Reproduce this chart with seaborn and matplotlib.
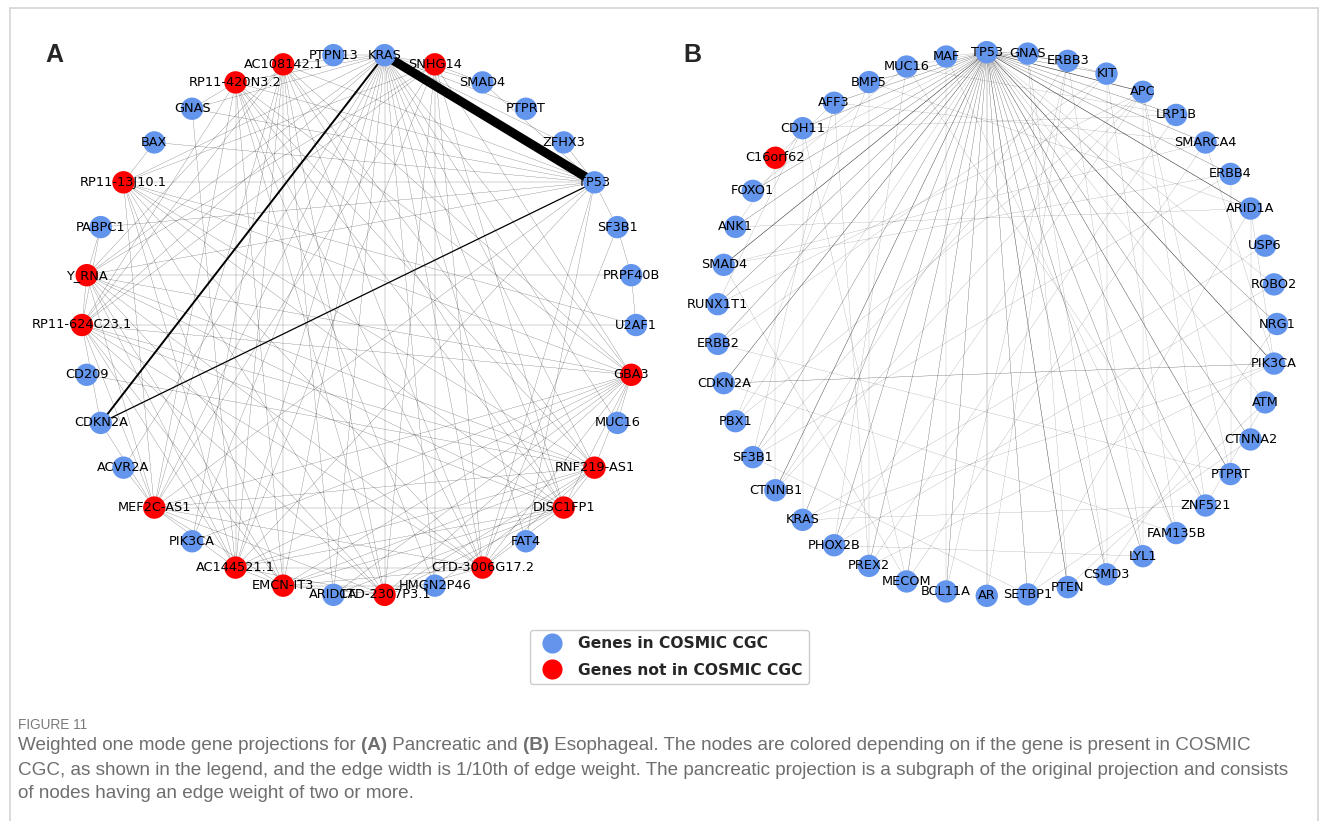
import numpy as np
import pandas as pd
import matplotlib
matplotlib.use("Agg")
import matplotlib.pyplot as plt
from matplotlib.lines import Line2D
from matplotlib import font_manager
import seaborn as sns

W, H = 1328, 821
sns.set_theme(style="white")
plt.rcParams['font.family'] = ['DejaVu Sans']

# ---------------- data ----------------
# Panel A (pancreatic) nodes, circular order (counter-clockwise from the rightmost node)
nodes_a = ["U2AF1", "PRPF40B", "SF3B1", "TP53", "ZFHX3", "PTPRT", "SMAD4", "SNHG14",
           "KRAS", "PTPN13", "AC108142.1", "RP11-420N3.2", "GNAS", "BAX", "RP11-13J10.1",
           "PABPC1", "Y_RNA", "RP11-624C23.1", "CD209", "CDKN2A", "ACVR2A", "MEF2C-AS1",
           "PIK3CA", "AC144521.1", "EMCN-IT3", "ARID1A", "CTD-2307P3.1", "HMGN2P46",
           "CTD-3006G17.2", "FAT4", "DISC1FP1", "RNF219-AS1", "MUC16", "GBA3"]
not_cgc_a = ["SNHG14", "AC108142.1", "RP11-420N3.2", "RP11-13J10.1", "Y_RNA",
             "RP11-624C23.1", "MEF2C-AS1", "AC144521.1", "EMCN-IT3", "CTD-2307P3.1",
             "CTD-3006G17.2", "DISC1FP1", "RNF219-AS1", "GBA3"]
edges_a = [
    ("KRAS", "TP53", 65), ("KRAS", "CDKN2A", 14), ("TP53", "CDKN2A", 9),
    ("KRAS", "SNHG14", 2), ("KRAS", "SMAD4", 2), ("KRAS", "PTPRT", 2), ("KRAS", "ZFHX3", 2),
    ("KRAS", "PTPN13", 2), ("KRAS", "AC108142.1", 2), ("KRAS", "RP11-420N3.2", 2),
    ("KRAS", "GNAS", 2), ("KRAS", "RP11-13J10.1", 2), ("KRAS", "Y_RNA", 2),
    ("KRAS", "RP11-624C23.1", 2), ("KRAS", "MEF2C-AS1", 2), ("KRAS", "AC144521.1", 2),
    ("KRAS", "EMCN-IT3", 2), ("KRAS", "CTD-2307P3.1", 2), ("KRAS", "CTD-3006G17.2", 2),
    ("KRAS", "DISC1FP1", 2), ("KRAS", "RNF219-AS1", 2), ("KRAS", "GBA3", 2),
    ("KRAS", "PIK3CA", 2), ("KRAS", "ARID1A", 2), ("KRAS", "HMGN2P46", 2),
    ("KRAS", "FAT4", 2), ("KRAS", "MUC16", 2), ("KRAS", "ACVR2A", 2),
    ("TP53", "BAX", 2), ("TP53", "GNAS", 2), ("TP53", "PABPC1", 2), ("TP53", "RP11-13J10.1", 2),
    ("TP53", "AC108142.1", 2), ("TP53", "RP11-420N3.2", 2), ("TP53", "Y_RNA", 2),
    ("TP53", "ZFHX3", 2), ("TP53", "SMAD4", 2), ("TP53", "SF3B1", 2), ("TP53", "FAT4", 2),
    ("TP53", "CTD-3006G17.2", 2), ("TP53", "MEF2C-AS1", 2), ("TP53", "AC144521.1", 2),
    ("SNHG14", "SMAD4", 2), ("SNHG14", "RP11-13J10.1", 2), ("SNHG14", "Y_RNA", 2),
    ("SNHG14", "RP11-624C23.1", 2), ("SNHG14", "MEF2C-AS1", 2), ("SNHG14", "AC144521.1", 2),
    ("SNHG14", "HMGN2P46", 2), ("SNHG14", "CTD-2307P3.1", 2), ("SNHG14", "CTD-3006G17.2", 2),
    ("SNHG14", "DISC1FP1", 2), ("SNHG14", "GBA3", 2),
    ("AC108142.1", "EMCN-IT3", 2), ("AC108142.1", "AC144521.1", 2), ("AC108142.1", "CTD-2307P3.1", 2),
    ("AC108142.1", "CTD-3006G17.2", 2), ("AC108142.1", "DISC1FP1", 2), ("AC108142.1", "RNF219-AS1", 2),
    ("AC108142.1", "GBA3", 2), ("AC108142.1", "MEF2C-AS1", 2), ("AC108142.1", "Y_RNA", 2),
    ("AC108142.1", "RP11-624C23.1", 2), ("AC108142.1", "ARID1A", 2),
    ("RP11-420N3.2", "GNAS", 2), ("RP11-420N3.2", "AC144521.1", 2), ("RP11-420N3.2", "EMCN-IT3", 2),
    ("RP11-420N3.2", "CTD-2307P3.1", 2), ("RP11-420N3.2", "CTD-3006G17.2", 2),
    ("RP11-420N3.2", "DISC1FP1", 2), ("RP11-420N3.2", "RNF219-AS1", 2), ("RP11-420N3.2", "GBA3", 2),
    ("RP11-420N3.2", "RP11-624C23.1", 2), ("RP11-420N3.2", "MEF2C-AS1", 2),
    ("RP11-420N3.2", "HMGN2P46", 2),
    ("GNAS", "AC144521.1", 2), ("BAX", "RP11-13J10.1", 2),
    ("RP11-13J10.1", "MEF2C-AS1", 2), ("RP11-13J10.1", "AC144521.1", 2), ("RP11-13J10.1", "EMCN-IT3", 2),
    ("RP11-13J10.1", "CTD-2307P3.1", 2), ("RP11-13J10.1", "CTD-3006G17.2", 2),
    ("RP11-13J10.1", "DISC1FP1", 2), ("RP11-13J10.1", "RNF219-AS1", 2), ("RP11-13J10.1", "GBA3", 2),
    ("RP11-13J10.1", "U2AF1", 2),
    ("PABPC1", "Y_RNA", 2), ("PABPC1", "RP11-624C23.1", 2),
    ("Y_RNA", "RP11-624C23.1", 2), ("Y_RNA", "MEF2C-AS1", 2), ("Y_RNA", "AC144521.1", 2),
    ("Y_RNA", "EMCN-IT3", 2), ("Y_RNA", "CTD-2307P3.1", 2), ("Y_RNA", "CTD-3006G17.2", 2),
    ("Y_RNA", "DISC1FP1", 2), ("Y_RNA", "RNF219-AS1", 2), ("Y_RNA", "GBA3", 2), ("Y_RNA", "PRPF40B", 2),
    ("RP11-624C23.1", "MEF2C-AS1", 2), ("RP11-624C23.1", "AC144521.1", 2),
    ("RP11-624C23.1", "EMCN-IT3", 2), ("RP11-624C23.1", "CTD-2307P3.1", 2),
    ("RP11-624C23.1", "CTD-3006G17.2", 2), ("RP11-624C23.1", "DISC1FP1", 2),
    ("RP11-624C23.1", "RNF219-AS1", 2), ("RP11-624C23.1", "GBA3", 2), ("RP11-624C23.1", "CDKN2A", 2),
    ("RP11-624C23.1", "U2AF1", 2),
    ("CD209", "RNF219-AS1", 2), ("CDKN2A", "MEF2C-AS1", 2), ("ACVR2A", "MEF2C-AS1", 2),
    ("MEF2C-AS1", "DISC1FP1", 2), ("MEF2C-AS1", "AC144521.1", 2), ("MEF2C-AS1", "EMCN-IT3", 2),
    ("MEF2C-AS1", "CTD-2307P3.1", 2), ("MEF2C-AS1", "CTD-3006G17.2", 2),
    ("MEF2C-AS1", "RNF219-AS1", 2), ("MEF2C-AS1", "GBA3", 2),
    ("PIK3CA", "AC108142.1", 2), ("PIK3CA", "GBA3", 2),
    ("AC144521.1", "CTD-3006G17.2", 2), ("AC144521.1", "EMCN-IT3", 2),
    ("AC144521.1", "CTD-2307P3.1", 2), ("AC144521.1", "DISC1FP1", 2),
    ("AC144521.1", "RNF219-AS1", 2), ("AC144521.1", "GBA3", 2),
    ("EMCN-IT3", "HMGN2P46", 2), ("EMCN-IT3", "CTD-2307P3.1", 2), ("EMCN-IT3", "CTD-3006G17.2", 2),
    ("EMCN-IT3", "DISC1FP1", 2), ("EMCN-IT3", "RNF219-AS1", 2), ("EMCN-IT3", "GBA3", 2),
    ("ARID1A", "GBA3", 2), ("ARID1A", "DISC1FP1", 2),
    ("CTD-2307P3.1", "CTD-3006G17.2", 2), ("CTD-2307P3.1", "DISC1FP1", 2),
    ("CTD-2307P3.1", "RNF219-AS1", 2), ("CTD-2307P3.1", "GBA3", 2),
    ("HMGN2P46", "RNF219-AS1", 2),
    ("CTD-3006G17.2", "DISC1FP1", 2), ("CTD-3006G17.2", "RNF219-AS1", 2), ("CTD-3006G17.2", "GBA3", 2),
    ("DISC1FP1", "RNF219-AS1", 2), ("DISC1FP1", "GBA3", 2), ("RNF219-AS1", "GBA3", 2),
    ("MUC16", "GBA3", 2), ("SF3B1", "PRPF40B", 2), ("SF3B1", "CTD-3006G17.2", 2),
    ("PRPF40B", "U2AF1", 2),
]

# Panel B (esophageal) nodes, circular order (counter-clockwise from the rightmost node)
nodes_b = ["NRG1", "ROBO2", "USP6", "ARID1A", "ERBB4", "SMARCA4", "LRP1B", "APC", "KIT",
           "ERBB3", "GNAS", "TP53", "MAF", "MUC16", "BMP5", "AFF3", "CDH11", "C16orf62",
           "FOXO1", "ANK1", "SMAD4", "RUNX1T1", "ERBB2", "CDKN2A", "PBX1", "SF3B1", "CTNNB1",
           "KRAS", "PHOX2B", "PREX2", "MECOM", "BCL11A", "AR", "SETBP1", "PTEN", "CSMD3",
           "LYL1", "FAM135B", "ZNF521", "PTPRT", "CTNNA2", "ATM", "PIK3CA"]
not_cgc_b = ["C16orf62"]
edges_b = [
    ("TP53", "MAF", 1), ("TP53", "MUC16", 1), ("TP53", "BMP5", 2), ("TP53", "AFF3", 2),
    ("TP53", "CDH11", 2), ("TP53", "C16orf62", 1), ("TP53", "FOXO1", 2), ("TP53", "ANK1", 2),
    ("TP53", "SMAD4", 4), ("TP53", "RUNX1T1", 2), ("TP53", "ERBB2", 2), ("TP53", "CDKN2A", 3),
    ("TP53", "PBX1", 1), ("TP53", "SF3B1", 2), ("TP53", "CTNNB1", 3), ("TP53", "KRAS", 2),
    ("TP53", "PHOX2B", 2), ("TP53", "PREX2", 2), ("TP53", "MECOM", 2), ("TP53", "BCL11A", 2),
    ("TP53", "AR", 2), ("TP53", "SETBP1", 2), ("TP53", "PTEN", 3), ("TP53", "CSMD3", 2),
    ("TP53", "LYL1", 2), ("TP53", "FAM135B", 2), ("TP53", "ZNF521", 2), ("TP53", "PTPRT", 3),
    ("TP53", "CTNNA2", 2), ("TP53", "ATM", 1), ("TP53", "PIK3CA", 4), ("TP53", "NRG1", 2),
    ("TP53", "ARID1A", 4), ("TP53", "ERBB4", 2), ("TP53", "SMARCA4", 2), ("TP53", "LRP1B", 2),
    ("TP53", "APC", 4), ("TP53", "KIT", 2), ("TP53", "ERBB3", 2), ("TP53", "GNAS", 2),
    ("TP53", "ROBO2", 1),
    ("C16orf62", "CTNNB1", 1), ("CDH11", "KRAS", 1), ("BMP5", "PREX2", 1), ("KIT", "CSMD3", 1),
    ("APC", "LYL1", 1), ("ERBB4", "PTPRT", 1), ("CDKN2A", "PIK3CA", 2), ("KRAS", "ZNF521", 1),
    ("PHOX2B", "LYL1", 1), ("PIK3CA", "PREX2", 1), ("PIK3CA", "KRAS", 1), ("ERBB2", "PTPRT", 1),
    ("AFF3", "SMARCA4", 1), ("CDH11", "LRP1B", 1), ("SMAD4", "ERBB4", 1), ("SMAD4", "MECOM", 1),
    ("RUNX1T1", "APC", 1), ("PBX1", "APC", 1), ("ANK1", "ARID1A", 1), ("MUC16", "ZNF521", 1),
    ("MAF", "FAM135B", 1), ("MAF", "BCL11A", 1), ("APC", "PHOX2B", 1), ("APC", "CTNNB1", 1),
    ("KIT", "SF3B1", 1), ("LRP1B", "PREX2", 1), ("SMARCA4", "MECOM", 1), ("ARID1A", "SETBP1", 1),
    ("ARID1A", "CTNNA2", 1), ("ROBO2", "PHOX2B", 1), ("ATM", "PTEN", 1), ("CTNNA2", "SETBP1", 1),
    ("ZNF521", "APC", 1), ("FAM135B", "KIT", 1), ("LYL1", "ERBB3", 1), ("CSMD3", "GNAS", 1),
    ("PTEN", "GNAS", 1), ("SETBP1", "SF3B1", 1), ("BCL11A", "ERBB3", 1), ("MECOM", "CDH11", 1),
    ("PREX2", "AFF3", 1), ("PHOX2B", "MUC16", 1), ("CTNNB1", "ERBB3", 1), ("SF3B1", "AFF3", 1),
    ("PBX1", "BMP5", 1), ("ERBB2", "KIT", 1), ("RUNX1T1", "CDH11", 1), ("ANK1", "CDH11", 1),
    ("C16orf62", "AFF3", 1), ("FOXO1", "MUC16", 1), ("SMAD4", "SMARCA4", 1), ("USP6", "KRAS", 1),
    ("ARID1A", "PIK3CA", 1), ("NRG1", "CSMD3", 1), ("ERBB4", "SF3B1", 1), ("GNAS", "KIT", 1),
    ("MUC16", "LRP1B", 1), ("BMP5", "ARID1A", 1), ("PTPRT", "APC", 1), ("AR", "ERBB3", 1),
    ("FAM135B", "CDKN2A", 1), ("ZNF521", "ATM", 1), ("SMARCA4", "PIK3CA", 1),
]

legend_labels = ["Genes in COSMIC CGC", "Genes not in COSMIC CGC"]
node_colors = {"Genes in COSMIC CGC": "#6495ED", "Genes not in COSMIC CGC": "#FF0000"}

caption_head = "FIGURE 11"
caption_lines = [
    [("Weighted one mode gene projections for ", False), ("(A)", True), (" Pancreatic and ", False),
     ("(B)", True), (" Esophageal. The nodes are colored depending on if the gene is present in COSMIC", False)],
    [("CGC, as shown in the legend, and the edge width is 1/10th of edge weight. The pancreatic projection is a subgraph of the original projection and consists", False)],
    [("of nodes having an edge weight of two or more.", False)],
]

# ---------------- figure ----------------
fig = plt.figure(figsize=(W / 100, H / 100), dpi=100)
fig.patch.set_facecolor("white")

PAD = 1.15


def add_panel(cx, cy, rx, ry):
    return fig.add_axes([(cx - PAD * rx) / W, 1 - (cy + PAD * ry) / H,
                         2 * PAD * rx / W, 2 * PAD * ry / H])


def draw_network(ax, nodes, not_cgc, edges, thin_alpha):
    n = len(nodes)
    ang = 2 * np.pi * np.arange(n) / n
    df = pd.DataFrame({"gene": nodes, "x": np.cos(ang), "y": np.sin(ang)})
    df["group"] = np.where(df["gene"].isin(not_cgc), legend_labels[1], legend_labels[0])
    pos = df.set_index("gene")[["x", "y"]]
    for u, v, w in edges:
        ax.plot([pos.loc[u, "x"], pos.loc[v, "x"]], [pos.loc[u, "y"], pos.loc[v, "y"]],
                color="black", lw=w / 10, alpha=(1.0 if w >= 8 else thin_alpha),
                solid_capstyle="butt", zorder=1)
    sns.scatterplot(data=df, x="x", y="y", hue="group", palette=node_colors, s=260,
                    linewidth=0, ax=ax, legend=False, zorder=2)
    for _, r in df.iterrows():
        ax.text(r["x"], r["y"], r["gene"], ha="center", va="center", fontsize=9.3,
                color="black", zorder=3)
    ax.set_xlim(-PAD, PAD)
    ax.set_ylim(-PAD, PAD)
    ax.set_axis_off()


ax_a = add_panel(359, 325, 277, 271)
draw_network(ax_a, nodes_a, not_cgc_a, edges_a, thin_alpha=0.65)
ax_b = add_panel(997, 324, 280, 272)
draw_network(ax_b, nodes_b, not_cgc_b, edges_b, thin_alpha=0.8)

# panel letters
fig.text(54 / W, 1 - 55 / H, "A", fontsize=18, fontweight="bold", ha="center", va="center",
         family=["Liberation Sans", "DejaVu Sans"])
fig.text(692 / W, 1 - 55 / H, "B", fontsize=18, fontweight="bold", ha="center", va="center",
         family=["Liberation Sans", "DejaVu Sans"])

# legend
handles = [Line2D([0], [0], marker="o", linestyle="None", markersize=14.5, markeredgewidth=0,
                  markerfacecolor=node_colors[l], label=l) for l in legend_labels]
fig.legend(handles=handles, loc="center", bbox_to_anchor=(669.5 / W, 1 - 657 / H),
           prop={"weight": "bold", "size": 11.2}, frameon=True, edgecolor="#cccccc",
           framealpha=1, fancybox=True, handlelength=2.0, handletextpad=0.72,
           labelspacing=0.72, borderpad=0.4)

# outer frame
frame_col = "#d4d4d4"
fig.add_artist(Line2D([10 / W, 1318 / W], [1 - 8 / H, 1 - 8 / H], color=frame_col, lw=1.2))
fig.add_artist(Line2D([10 / W, 10 / W], [0, 1 - 8 / H], color=frame_col, lw=1.2))
fig.add_artist(Line2D([1318 / W, 1318 / W], [0, 1 - 8 / H], color=frame_col, lw=1.2))

# caption
names = {f.name for f in font_manager.fontManager.ttflist}
cap_family = "Liberation Sans Narrow" if "Liberation Sans Narrow" in names else "Liberation Sans"
cap_color = "#6e6e6e"
renderer = fig.canvas.get_renderer()

probe = fig.text(0, 0, caption_lines[1][0][0], fontsize=12, family=cap_family)
wprobe = probe.get_window_extent(renderer).width
probe.remove()
cap_fs = 12 * 1280 / wprobe

fig.text(18 / W, 1 - 725 / H, caption_head, fontsize=cap_fs * 0.72, color="#7a7a7a",
         family=cap_family, va="center", ha="left")
line_y = [746, 770, 793]
for segs, yy in zip(caption_lines, line_y):
    x = 18.0
    for txt, bold in segs:
        t = fig.text(x / W, 1 - yy / H, txt, fontsize=cap_fs, color=cap_color,
                     fontweight="bold" if bold else "normal", family=cap_family,
                     va="center", ha="left")
        x += t.get_window_extent(renderer).width

fig.savefig("out.png", dpi=100, facecolor="white")
